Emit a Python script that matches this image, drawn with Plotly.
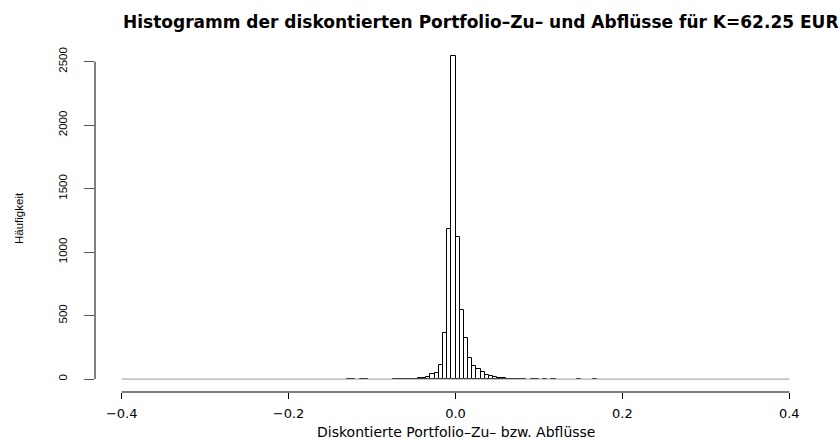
import numpy as np
import plotly.graph_objects as go

# ---- data ----
bin_width = 0.005
break_min = -0.4
break_max = 0.4
bin_lower = [-0.130, -0.125, -0.115, -0.110, -0.075, -0.070, -0.065, -0.060, -0.055,
             -0.050, -0.045, -0.040, -0.035, -0.030, -0.025, -0.020, -0.015, -0.010,
             -0.005, 0.000, 0.005, 0.010, 0.015, 0.020, 0.025, 0.030, 0.035, 0.040,
             0.045, 0.050, 0.055, 0.060, 0.065, 0.070, 0.075, 0.080, 0.090, 0.095,
             0.105, 0.115, 0.145, 0.165]
counts = [1, 1, 1, 1, 1, 1, 1, 2, 2,
          3, 8, 12, 18, 37, 50, 112, 366, 1183,
          2545, 1122, 544, 322, 165, 106, 78, 58, 32, 24,
          15, 10, 6, 4, 3, 2, 2, 1, 1, 1,
          1, 1, 1, 1]
x_tick_vals = [-0.4, -0.2, 0.0, 0.2, 0.4]
x_tick_text = ["\u22120.4", "\u22120.2", "0.0", "0.2", "0.4"]
y_tick_vals = [0, 500, 1000, 1500, 2000, 2500]
y_tick_text = ["0", "500", "1000", "1500", "2000", "2500"]

title = "Histogramm der diskontierten Portfolio\u2013Zu\u2013 und Abfl\u00fcsse f\u00fcr K=62.25 EUR"
x_title = "Diskontierte Portfolio\u2013Zu\u2013 bzw. Abfl\u00fcsse"
y_title = "H\u00e4ufigkeit"

# ---- derived ----
centers = [b + bin_width / 2 for b in bin_lower]
xspan = break_max - break_min
xr = [break_min - 0.04 * xspan, break_max + 0.04 * xspan]
ymax = max(counts)
yr = [-0.04 * ymax, 1.04 * ymax]

W, H = 840, 439
ML, MR, MT, MB = 95, 24, 43, 47
PW, PH = W - ML - MR, H - MT - MB

hfont = "DejaVu Sans"
vfont = "Liberation Sans"

fig = go.Figure()
# baseline of empty bins (R draws zero-height rectangles)
fig.add_trace(go.Scatter(x=[break_min, break_max], y=[0, 0], mode="lines",
                         line=dict(color="#9a9a9a", width=1), hoverinfo="skip",
                         showlegend=False))
fig.add_trace(go.Bar(x=centers, y=counts, width=bin_width,
                     marker=dict(color="white", line=dict(color="black", width=1)),
                     showlegend=False))

fig.update_layout(
    width=W, height=H,
    margin=dict(l=ML, r=MR, t=MT, b=MB),
    paper_bgcolor="white", plot_bgcolor="white",
    bargap=0,
    xaxis=dict(range=xr, showgrid=False, zeroline=False, showline=False,
               tickmode="array", tickvals=x_tick_vals, ticktext=x_tick_text,
               ticks="outside", ticklen=6, tickcolor="black", tickwidth=1,
               tickfont=dict(family=hfont, size=13, color="black"),
               ticklabelstandoff=3),
    yaxis=dict(range=yr, showgrid=False, zeroline=False, showline=False,
               tickmode="array", tickvals=y_tick_vals, ticktext=y_tick_text,
               ticks="outside", ticklen=10, tickcolor="#555", tickwidth=1,
               tickangle=-90,
               tickfont=dict(family=vfont, size=11.5, color="black"),
               ticklabelstandoff=12),
    shapes=[
        dict(type="line", xref="x", yref="paper", x0=x_tick_vals[0], x1=x_tick_vals[-1],
             y0=0, y1=0, line=dict(color="black", width=1)),
        dict(type="line", xref="paper", yref="y", x0=0, x1=0,
             y0=y_tick_vals[0], y1=y_tick_vals[-1], line=dict(color="black", width=1)),
    ],
    annotations=[
        dict(text="<b>" + title + "</b>", xref="paper", yref="paper",
             x=(480 - ML) / PW, y=1 + (MT - 22) / PH, xanchor="center", yanchor="middle",
             showarrow=False, font=dict(family=hfont, size=17, color="black")),
        dict(text=x_title, xref="paper", yref="paper",
             x=(456 - ML) / PW, y=-(432 - (MT + PH)) / PH, xanchor="center", yanchor="middle",
             showarrow=False, font=dict(family=hfont, size=14, color="black")),
        dict(text=y_title, xref="paper", yref="paper", textangle=-90,
             x=(19 - ML) / PW, y=((MT + PH) - 218) / PH, xanchor="center", yanchor="middle",
             showarrow=False, font=dict(family=vfont, size=11.5, color="black")),
    ],
)

fig.write_html("out.html")
